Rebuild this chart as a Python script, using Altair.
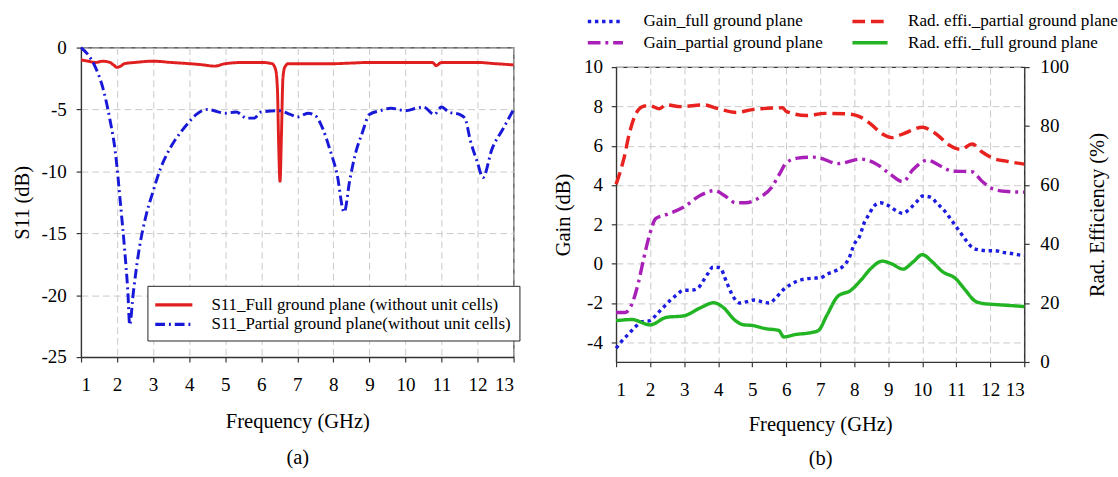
import altair as alt
import pandas as pd

FONT = "Liberation Serif"

# ---------------- panel (a): S11 ----------------
A_NAMES = ["S11_Full ground plane (without unit cells)",
           "S11_Partial ground plane(without unit cells)"]
A_COLORS = ["#e02020", "#1818d8"]

a_full_f = [1.0, 1.2, 1.4, 1.6, 1.8, 1.9, 2.0, 2.1, 2.2, 2.5, 3.0, 3.5, 4.0, 4.4, 4.7,
            5.0, 5.5, 6.0, 6.3, 6.4, 6.45, 6.48, 6.52, 6.56, 6.6, 6.65, 6.75, 7.0, 7.5,
            8.0, 8.5, 9.0, 9.5, 10.0, 10.5, 10.75, 10.85, 11.0, 11.5, 12.0, 12.5, 13.0]
a_full_s = [-1.0, -1.1, -1.2, -1.1, -1.2, -1.4, -1.6, -1.5, -1.3, -1.2, -1.1, -1.2, -1.3,
            -1.4, -1.5, -1.3, -1.2, -1.2, -1.3, -1.8, -3.5, -7.5, -10.8, -7.0, -2.5, -1.6,
            -1.3, -1.3, -1.3, -1.3, -1.25, -1.2, -1.2, -1.2, -1.2, -1.2, -1.45, -1.2, -1.2,
            -1.2, -1.3, -1.4]

a_part_f = [1.0, 1.2, 1.4, 1.6, 1.8, 1.95, 2.1, 2.2, 2.3, 2.35, 2.45, 2.6, 2.8, 3.0, 3.2,
            3.4, 3.6, 3.8, 4.0, 4.2, 4.5, 5.0, 5.3, 5.6, 5.8, 6.0, 6.5, 6.8, 7.0, 7.3, 7.5,
            7.7, 7.9, 8.1, 8.3, 8.45, 8.6, 8.8, 9.0, 9.3, 9.6, 10.0, 10.3, 10.5, 10.8, 11.0,
            11.2, 11.5, 11.65, 11.8, 12.0, 12.15, 12.4, 12.7, 13.0]
a_part_s = [0.0, -0.6, -1.6, -3.2, -5.8, -8.4, -12.8, -16.0, -19.8, -22.4, -19.8, -16.5,
            -13.6, -11.6, -9.8, -8.5, -7.5, -6.7, -6.0, -5.4, -5.0, -5.3, -5.2, -5.7, -5.7,
            -5.2, -5.1, -5.4, -5.6, -5.3, -5.5, -6.5, -8.2, -10.2, -13.3, -10.8, -8.7, -6.9,
            -5.4, -5.1, -4.9, -5.1, -4.9, -4.8, -5.4, -4.8, -5.2, -5.4, -5.7, -7.5, -9.3,
            -10.5, -8.2, -6.6, -5.0]

# ---------------- panel (b): gain and radiation efficiency ----------------
B_NAMES = ["Gain_full ground plane", "Gain_partial ground plane",
           "Rad. effi._partial ground plane", "Rad. effi._full ground plane"]
B_COLORS = ["#1c1ce0", "#a820b8", "#e8221e", "#22b422"]

gain_full_f = [1.0, 1.17, 1.38, 1.57, 1.77, 2.0, 2.2, 2.4, 2.6, 2.77, 2.98, 3.2, 3.4, 3.55,
               3.7, 3.85, 4.05, 4.25, 4.45, 4.64, 4.85, 5.06, 5.28, 5.5, 5.7, 5.9, 6.12,
               6.33, 6.55, 6.75, 7.0, 7.24, 7.45, 7.67, 7.84, 8.0, 8.16, 8.31, 8.44, 8.56,
               8.77, 8.98, 9.2, 9.43, 9.64, 9.83, 10.02, 10.24, 10.44, 10.66, 10.82, 10.97,
               11.14, 11.3, 11.5, 11.72, 11.93, 12.14, 12.36, 12.58, 12.8, 13.0]
gain_full_db = [-4.3, -3.93, -3.55, -3.2, -2.95, -2.9, -2.56, -2.2, -1.85, -1.6, -1.35,
                -1.35, -1.25, -0.9, -0.5, -0.17, -0.2, -0.95, -1.7, -2.0, -1.93, -1.85,
                -1.93, -2.0, -1.73, -1.35, -1.07, -0.88, -0.78, -0.74, -0.72, -0.5, -0.36,
                -0.13, 0.25, 0.99, 1.4, 2.15, 2.51, 2.89, 3.1, 2.98, 2.73, 2.56, 2.81, 3.14,
                3.44, 3.39, 3.06, 2.68, 2.31, 1.95, 1.54, 1.16, 0.79, 0.69, 0.66, 0.66, 0.58,
                0.53, 0.46, 0.43]

gain_part_f = [1.0, 1.27, 1.46, 1.65, 1.82, 2.0, 2.17, 2.45, 3.0, 3.47, 3.9, 4.18, 4.52,
               4.8, 5.24, 5.57, 5.8, 6.0, 6.33, 6.8, 7.0, 7.52, 8.2, 8.68, 9.06, 9.43, 9.73,
               10.15, 10.55, 10.88, 11.46, 11.75, 12.08, 12.52, 13.0]
gain_part_db = [-2.48, -2.48, -2.07, -1.0, 0.33, 1.57, 2.3, 2.48, 2.89, 3.47, 3.72, 3.47,
                3.1, 3.1, 3.39, 3.88, 4.55, 5.12, 5.37, 5.42, 5.37, 5.09, 5.32, 5.04, 4.55,
                4.17, 4.79, 5.26, 4.96, 4.71, 4.68, 4.21, 3.8, 3.67, 3.64]

eff_part_f = [1.0, 1.22, 1.4, 1.6, 1.84, 2.0, 2.27, 2.47, 2.9, 3.57, 4.0, 4.53, 5.0, 5.9,
              6.0, 6.6, 7.14, 7.72, 8.1, 8.49, 8.82, 9.1, 9.44, 10.0, 10.4, 10.8, 11.13,
              11.47, 11.75, 12.08, 12.52, 13.0]
eff_part_pct = [60.3, 68.6, 78.0, 84.6, 86.8, 86.9, 85.9, 87.2, 86.6, 87.2, 85.9, 84.6,
                85.6, 86.2, 85.0, 83.6, 84.3, 84.2, 83.5, 80.7, 77.4, 76.1, 77.4, 79.6,
                77.4, 73.5, 72.1, 73.9, 71.3, 69.1, 68.0, 67.1]

eff_full_f = [1.0, 1.46, 2.0, 2.47, 3.0, 3.5, 3.87, 4.15, 4.5, 4.75, 5.0, 5.4, 5.78, 5.93,
              6.26, 6.75, 6.95, 7.19, 7.52, 7.9, 8.2, 8.49, 8.82, 9.1, 9.43, 9.73, 10.0,
              10.3, 10.6, 10.97, 11.26, 11.55, 11.75, 12.13, 12.52, 13.0]
eff_full_pct = [14.0, 14.4, 12.6, 15.1, 15.7, 18.5, 20.1, 18.5, 14.1, 12.6, 12.4, 11.3,
                10.7, 8.5, 9.3, 10.0, 10.7, 15.7, 22.3, 24.3, 27.8, 31.7, 34.2, 33.3, 31.5,
                33.9, 36.4, 33.9, 30.6, 28.4, 24.5, 20.7, 19.9, 19.5, 19.2, 18.8]

X_TICKS = list(range(1, 14))
LINE_SYMBOL = "M-2,0H2"   # long horizontal stroke used as legend swatch


def frame(name, fs, vs):
    return pd.DataFrame({"series": name, "f": fs, "v": vs, "i": list(range(len(fs)))})


df_a = pd.concat([frame(A_NAMES[0], a_full_f, a_full_s),
                  frame(A_NAMES[1], a_part_f, a_part_s)], ignore_index=True)
df_gain = pd.concat([frame(B_NAMES[0], gain_full_f, gain_full_db),
                     frame(B_NAMES[1], gain_part_f, gain_part_db)], ignore_index=True)
df_eff = pd.concat([frame(B_NAMES[2], eff_part_f, eff_part_pct),
                    frame(B_NAMES[3], eff_full_f, eff_full_pct)], ignore_index=True)

AX = dict(labelFont=FONT, titleFont=FONT, labelFontSize=19.5, titleFontSize=21)

# ---------------- left chart ----------------
leg_a = alt.Legend(title=None, orient="none", legendX=68, legendY=244,
                   direction="vertical", strokeColor="#222", fillColor="white",
                   padding=8, labelFont=FONT, labelFontSize=17.3, labelLimit=500,
                   symbolType=LINE_SYMBOL, symbolSize=361, symbolStrokeWidth=3.5,
                   symbolOffset=7.5, labelOffset=27, rowPadding=0)

left = alt.Chart(df_a).mark_line(interpolate="monotone", strokeWidth=3).encode(
    x=alt.X("f:Q", scale=alt.Scale(domain=[1, 13], nice=False, zero=False),
            axis=alt.Axis(values=X_TICKS, title=["Frequency (GHz)", "(a)"],
                          titleLineHeight=36, titlePadding=18, labelPadding=14, **AX)),
    y=alt.Y("v:Q", scale=alt.Scale(domain=[-25, 0], nice=False, zero=False),
            axis=alt.Axis(values=[0, -5, -10, -15, -20, -25], title="S11 (dB)",
                          labelExpr="'' + datum.value", labelPadding=10,
                          titlePadding=9, **AX)),
    color=alt.Color("series:N", scale=alt.Scale(domain=A_NAMES, range=A_COLORS),
                    legend=leg_a),
    strokeDash=alt.StrokeDash("series:N",
                              scale=alt.Scale(domain=A_NAMES, range=[[1, 0], [10, 4, 2, 4]]),
                              legend=leg_a),
    order="i:Q",
).properties(width=443, height=317)

# ---------------- right chart ----------------
leg_b = alt.Legend(title=None, orient="none", legendX=-29, legendY=-38, columns=2,
                   columnPadding=23, rowPadding=2, padding=0, labelFont=FONT,
                   labelFontSize=17.5, labelLimit=500, symbolType=LINE_SYMBOL,
                   symbolSize=324, symbolOffset=7, labelOffset=28)

x_b = alt.X("f:Q", scale=alt.Scale(domain=[1, 13], nice=False, zero=False),
            axis=alt.Axis(values=X_TICKS, title=["Frequency (GHz)", "(b)"],
                          titleLineHeight=34, titlePadding=16, labelPadding=14, **AX))
enc_b = dict(
    color=alt.Color("series:N", scale=alt.Scale(domain=B_NAMES, range=B_COLORS), legend=leg_b),
    strokeDash=alt.StrokeDash("series:N", scale=alt.Scale(
        domain=B_NAMES, range=[[3.5, 3.8], [13, 5, 3, 5], [13, 6], [1, 0]]), legend=leg_b),
    strokeWidth=alt.StrokeWidth("series:N", scale=alt.Scale(
        domain=B_NAMES, range=[3.5, 3.5, 3.5, 5]), legend=leg_b),
    order="i:Q",
)

gain = alt.Chart(df_gain).mark_line(interpolate="monotone").encode(
    x=x_b,
    y=alt.Y("v:Q", scale=alt.Scale(domain=[-5, 10], nice=False, zero=False),
            axis=alt.Axis(values=[-4, -2, 0, 2, 4, 6, 8, 10], title="Gain (dB)",
                          orient="left", labelExpr="'' + datum.value",
                          labelPadding=9, titlePadding=10, **AX)),
    **enc_b,
)
eff = alt.Chart(df_eff).mark_line(interpolate="monotone").encode(
    x=x_b,
    y=alt.Y("v:Q", scale=alt.Scale(domain=[0, 100], nice=False, zero=False),
            axis=alt.Axis(values=[0, 20, 40, 60, 80, 100], title="Rad. Efficiency (%)",
                          orient="right", grid=False, labelPadding=11,
                          titleAngle=270, titleBaseline="top", titlePadding=19, **AX)),
    **enc_b,
)
right = alt.layer(gain, eff).resolve_scale(y="independent").properties(width=418, height=302)

# empty strip that lowers panel (b) relative to panel (a)
spacer = alt.Chart(pd.DataFrame({"sx": [0], "sy": [0]})).mark_point(opacity=0, size=0).encode(
    x=alt.X("sx:Q", axis=None), y=alt.Y("sy:Q", axis=None)
).properties(width=418, height=8, view=alt.ViewBackground(stroke="transparent"))

right_col = alt.vconcat(spacer, right, spacing=0)

chart = alt.hconcat(left, right_col, spacing=31).resolve_scale(
    color="independent", strokeDash="independent", strokeWidth="independent"
).resolve_legend(
    color="independent", strokeDash="independent", strokeWidth="independent"
).properties(
    padding={"left": 11, "top": 5, "right": 0, "bottom": 0}
).configure(font=FONT).configure_axis(
    labelFont=FONT, labelFontSize=19.5, labelColor="black",
    titleFont=FONT, titleFontSize=21, titleFontWeight="normal", titleColor="black",
    domainColor="#333", domainWidth=1.2, tickColor="#333", tickSize=5, tickWidth=1.2,
    gridColor="#c8c8c8", gridDash=[7, 4], gridWidth=1,
).configure_view(stroke="#333", strokeWidth=1.2).configure_title(font=FONT)

chart.save("out.html", embed_options={"renderer": "svg", "actions": False})
